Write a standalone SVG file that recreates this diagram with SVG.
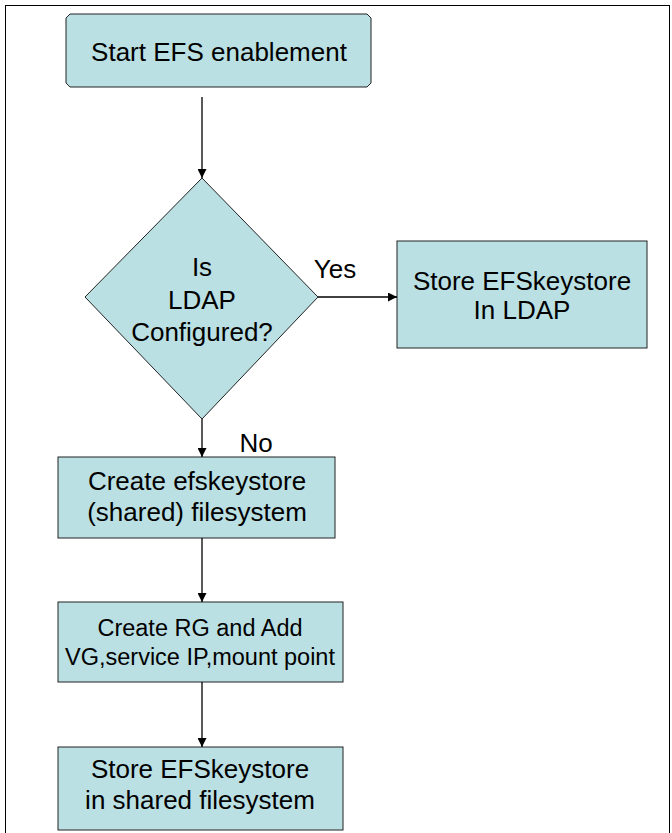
<svg xmlns="http://www.w3.org/2000/svg" width="672" height="833" viewBox="0 0 672 833">
<style>
.box{fill:#bbe0e3;stroke:#222;stroke-width:1}
.t{font-family:"Liberation Sans",Arial,sans-serif;font-size:26px;fill:#000;text-anchor:middle}
.s{font-size:23.5px}
.c{stroke:#000;stroke-width:1.3;fill:none}
</style>
<defs>
<marker id="ah" viewBox="0 0 10 10" refX="10" refY="5" markerWidth="9" markerHeight="9" markerUnits="userSpaceOnUse" orient="auto">
<path d="M0,0 L10,5 L0,10 z" fill="#000"/>
</marker>
</defs>
<rect x="5.5" y="5.5" width="664" height="850" fill="#fff" stroke="#000" stroke-width="1"/>
<g id="start">
<path class="box" d="M70,14 H367 L371,18 V83 L367,87 H70 L66,83 V18 Z"/>
<text class="t" x="219" y="61" font-size="26.5">Start EFS enablement</text>
</g>
<g id="decision">
<path class="box" d="M202,178 L318,297 L202,419 L85,297 Z"/>
<text class="t" x="202" y="276">Is</text>
<text class="t" x="202" y="309">LDAP</text>
<text class="t" x="202" y="341">Configured?</text>
</g>
<g id="ldap">
<rect class="box" x="397" y="241" width="250" height="107"/>
<text class="t" x="522" y="290">Store EFSkeystore</text>
<text class="t" x="522" y="319">In LDAP</text>
</g>
<g id="createfs">
<rect class="box" x="58" y="457" width="277" height="81"/>
<text class="t" x="197" y="490">Create efskeystore</text>
<text class="t" x="197" y="521">(shared) filesystem</text>
</g>
<g id="createrg">
<rect class="box" x="58" y="602" width="285" height="80"/>
<text class="t s" x="200" y="636">Create RG and Add</text>
<text class="t s" x="200" y="665">VG,service IP,mount point</text>
</g>
<g id="storefs">
<rect class="box" x="58" y="747" width="285" height="83"/>
<text class="t" x="200" y="778">Store EFSkeystore</text>
<text class="t" x="200" y="809">in shared filesystem</text>
</g>
<g id="connectors">
<line class="c" x1="202" y1="97" x2="202" y2="178" marker-end="url(#ah)"/>
<line class="c" x1="318" y1="297" x2="397" y2="297" marker-end="url(#ah)"/>
<line class="c" x1="202" y1="419" x2="202" y2="457" marker-end="url(#ah)"/>
<line class="c" x1="202" y1="538" x2="202" y2="602" marker-end="url(#ah)"/>
<line class="c" x1="202" y1="682" x2="202" y2="747" marker-end="url(#ah)"/>
<text class="t" x="335" y="278">Yes</text>
<text class="t" x="256" y="452">No</text>
</g>
</svg>
